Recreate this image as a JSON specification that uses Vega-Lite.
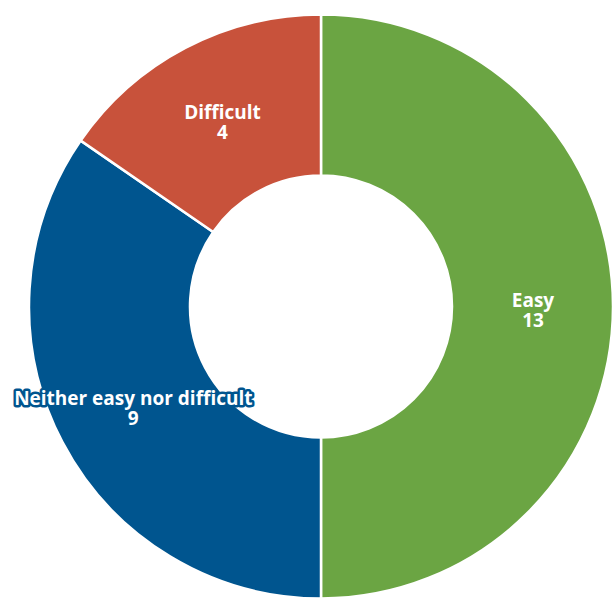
{
  "$schema": "https://vega.github.io/schema/vega-lite/v6.json",
  "width": 586,
  "height": 585,
  "autosize": {"type": "none"},
  "padding": {"left": 28, "top": 14, "right": 0, "bottom": 0},
  "background": "white",
  "data": {"values": [
    {"answer": "Easy", "count": 13, "idx": 1},
    {"answer": "Neither easy nor difficult", "count": 9, "idx": 2},
    {"answer": "Difficult", "count": 4, "idx": 3}
  ]},
  "encoding": {
    "theta": {"field": "count", "type": "quantitative", "stack": true},
    "order": {"field": "idx", "type": "quantitative"}
  },
  "layer": [
    {
      "mark": {"type": "arc", "outerRadius": 292, "innerRadius": 131, "stroke": "white", "strokeWidth": 2.5},
      "encoding": {
        "color": {"field": "answer", "type": "nominal", "legend": null,
          "scale": {"domain": ["Easy", "Neither easy nor difficult", "Difficult"], "range": ["#6ba543", "#00558f", "#c8523b"]}}
      }
    },
    {
      "mark": {"type": "text", "radius": 212, "font": "Open Sans", "fontWeight": "bold", "fontSize": 19, "dy": -6, "strokeWidth": 5, "strokeJoin": "round"},
      "encoding": {
        "text": {"field": "answer", "type": "nominal"},
        "color": {"field": "answer", "type": "nominal", "legend": null},
        "stroke": {"field": "answer", "type": "nominal", "legend": null,
          "scale": {"domain": ["Easy", "Neither easy nor difficult", "Difficult"], "range": ["#6ba543", "#00558f", "#c8523b"]}}
      }
    },
    {
      "mark": {"type": "text", "radius": 212, "font": "Open Sans", "fontWeight": "bold", "fontSize": 19, "dy": -6, "fill": "white"},
      "encoding": {"text": {"field": "answer", "type": "nominal"}}
    },
    {
      "mark": {"type": "text", "radius": 212, "font": "Open Sans", "fontWeight": "bold", "fontSize": 19, "dy": 14, "fill": "white"},
      "encoding": {"text": {"field": "count", "type": "quantitative"}}
    }
  ]
}
